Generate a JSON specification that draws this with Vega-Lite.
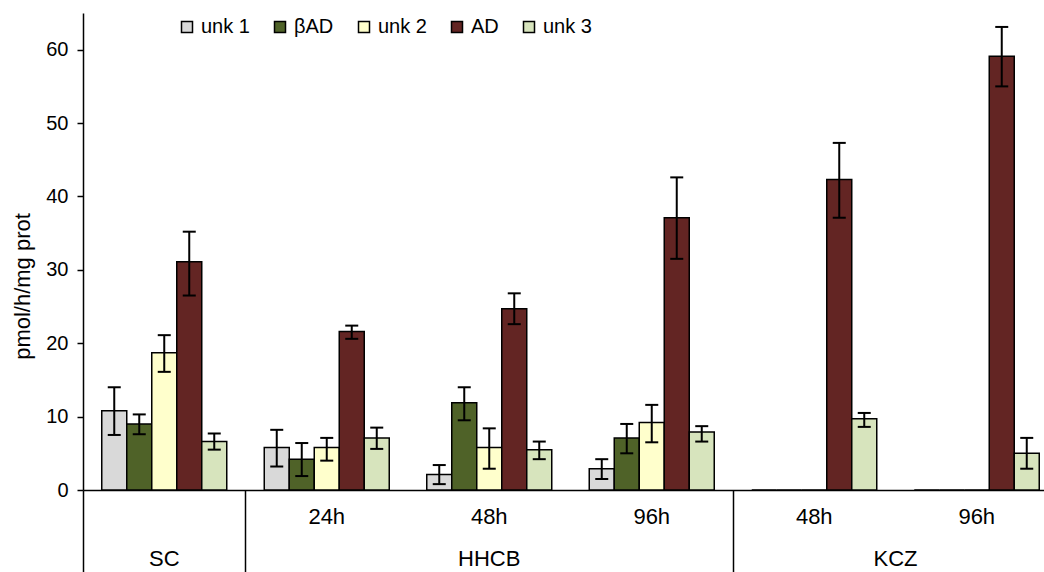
{
  "$schema": "https://vega.github.io/schema/vega-lite/v6.json",
  "autosize": {"type": "none"},
  "padding": {"left": 83, "top": 13, "right": 0, "bottom": 82},
  "width": 961,
  "height": 477,
  "background": "white",
  "config": {"font": "Liberation Sans", "view": {"stroke": null}, "axis": {"grid": false}},
  "data": {
    "values": [
      {"group": "SC", "series": "unk 1", "value": 10.8, "lo": 7.5, "hi": 14.0},
      {"group": "SC", "series": "βAD", "value": 9.0, "lo": 7.6, "hi": 10.3},
      {"group": "SC", "series": "unk 2", "value": 18.7, "lo": 16.1, "hi": 21.1},
      {"group": "SC", "series": "AD", "value": 31.1, "lo": 26.5, "hi": 35.2},
      {"group": "SC", "series": "unk 3", "value": 6.6, "lo": 5.5, "hi": 7.7},
      {"group": "HHCB 24h", "series": "unk 1", "value": 5.8, "lo": 3.2, "hi": 8.2},
      {"group": "HHCB 24h", "series": "βAD", "value": 4.2, "lo": 1.9, "hi": 6.4},
      {"group": "HHCB 24h", "series": "unk 2", "value": 5.8, "lo": 4.0, "hi": 7.1},
      {"group": "HHCB 24h", "series": "AD", "value": 21.6, "lo": 20.6, "hi": 22.4},
      {"group": "HHCB 24h", "series": "unk 3", "value": 7.1, "lo": 5.6, "hi": 8.5},
      {"group": "HHCB 48h", "series": "unk 1", "value": 2.1, "lo": 0.8, "hi": 3.4},
      {"group": "HHCB 48h", "series": "βAD", "value": 11.9, "lo": 9.5, "hi": 14.0},
      {"group": "HHCB 48h", "series": "unk 2", "value": 5.8, "lo": 2.9, "hi": 8.4},
      {"group": "HHCB 48h", "series": "AD", "value": 24.7, "lo": 22.6, "hi": 26.8},
      {"group": "HHCB 48h", "series": "unk 3", "value": 5.5, "lo": 4.2, "hi": 6.6},
      {"group": "HHCB 96h", "series": "unk 1", "value": 2.9, "lo": 1.5, "hi": 4.2},
      {"group": "HHCB 96h", "series": "βAD", "value": 7.1, "lo": 5.0, "hi": 9.0},
      {"group": "HHCB 96h", "series": "unk 2", "value": 9.2, "lo": 6.5, "hi": 11.6},
      {"group": "HHCB 96h", "series": "AD", "value": 37.1, "lo": 31.5, "hi": 42.6},
      {"group": "HHCB 96h", "series": "unk 3", "value": 7.9, "lo": 6.6, "hi": 8.7},
      {"group": "KCZ 48h", "series": "unk 1", "value": 0, "lo": null, "hi": null},
      {"group": "KCZ 48h", "series": "βAD", "value": 0, "lo": null, "hi": null},
      {"group": "KCZ 48h", "series": "unk 2", "value": 0, "lo": null, "hi": null},
      {"group": "KCZ 48h", "series": "AD", "value": 42.3, "lo": 37.1, "hi": 47.3},
      {"group": "KCZ 48h", "series": "unk 3", "value": 9.7, "lo": 8.6, "hi": 10.5},
      {"group": "KCZ 96h", "series": "unk 1", "value": 0, "lo": null, "hi": null},
      {"group": "KCZ 96h", "series": "βAD", "value": 0, "lo": null, "hi": null},
      {"group": "KCZ 96h", "series": "unk 2", "value": 0, "lo": null, "hi": null},
      {"group": "KCZ 96h", "series": "AD", "value": 59.1, "lo": 55.0, "hi": 63.1},
      {"group": "KCZ 96h", "series": "unk 3", "value": 5.0, "lo": 2.9, "hi": 7.1}
    ]
  },
  "layer": [
    {
      "mark": {"type": "bar", "stroke": "black", "strokeWidth": 1.5},
      "encoding": {
        "x": {
          "field": "group", "type": "nominal",
          "sort": ["SC", "HHCB 24h", "HHCB 48h", "HHCB 96h", "KCZ 48h", "KCZ 96h"],
          "scale": {"domain": ["SC", "HHCB 24h", "HHCB 48h", "HHCB 96h", "KCZ 48h", "KCZ 96h"], "range": [0, 975], "paddingInner": 0, "paddingOuter": 0},
          "axis": {
            "orient": "bottom", "title": null, "ticks": false, "domain": true,
            "domainColor": "black", "domainWidth": 1.5,
            "labelExpr": "datum.value == 'SC' ? ['', 'SC'] : datum.value == 'HHCB 48h' ? ['48h', 'HHCB'] : [slice(datum.value, -3), '']",
            "labelAngle": 0, "labelFontSize": 22, "labelColor": "black", "labelPadding": 16,
            "labelBaseline": "top", "labelLineHeight": 42, "labelFont": "Liberation Sans"
          }
        },
        "xOffset": {
          "field": "series", "type": "nominal",
          "sort": ["unk 1", "βAD", "unk 2", "AD", "unk 3"],
          "scale": {"domain": ["unk 1", "βAD", "unk 2", "AD", "unk 3"], "paddingInner": 0, "paddingOuter": 0.75}
        },
        "y": {
          "field": "value", "type": "quantitative",
          "scale": {"domain": [0, 65], "nice": false},
          "axis": {
            "title": "pmol/h/mg prot", "values": [0, 10, 20, 30, 40, 50, 60],
            "tickSize": 6, "tickColor": "black", "tickWidth": 1.5,
            "domainColor": "black", "domainWidth": 1.5,
            "labelFontSize": 20, "labelColor": "black", "labelPadding": 9, "labelFont": "Liberation Sans",
            "titleFontSize": 22, "titleFontWeight": "normal", "titleColor": "black", "titleFont": "Liberation Sans",
            "titleAngle": -90, "titleX": -54, "titleY": 273, "titleBaseline": "alphabetic", "titleAlign": "center"
          }
        },
        "color": {
          "field": "series", "type": "nominal",
          "scale": {"domain": ["unk 1", "βAD", "unk 2", "AD", "unk 3"], "range": ["#D9D9D9", "#4F6228", "#FFFFCC", "#632523", "#D7E4BD"]},
          "legend": {
            "orient": "none", "legendX": 94, "legendY": 4, "direction": "horizontal", "columns": 5,
            "title": null, "padding": 0, "symbolType": "square", "symbolSize": 121,
            "symbolStrokeColor": "black", "symbolStrokeWidth": 1.5, "symbolOpacity": 1,
            "labelFontSize": 20, "labelColor": "black", "labelFont": "Liberation Sans",
            "labelOffset": 4, "columnPadding": 20
          }
        }
      }
    },
    {
      "transform": [{"filter": "datum.hi != null"}],
      "mark": {"type": "rule", "color": "black", "strokeWidth": 2},
      "encoding": {
        "x": {
          "field": "group", "type": "nominal",
          "sort": ["SC", "HHCB 24h", "HHCB 48h", "HHCB 96h", "KCZ 48h", "KCZ 96h"],
          "axis": {
            "orient": "bottom", "title": null, "bandPosition": 0,
            "values": ["SC", "HHCB 24h", "KCZ 48h"],
            "ticks": true, "tickSize": 82, "tickColor": "black", "tickWidth": 1.5,
            "labels": false, "domain": false
          }
        },
        "xOffset": {"field": "series", "type": "nominal", "sort": ["unk 1", "βAD", "unk 2", "AD", "unk 3"]},
        "y": {"field": "lo", "type": "quantitative", "title": "pmol/h/mg prot"},
        "y2": {"field": "hi"}
      }
    },
    {
      "transform": [{"filter": "datum.hi != null"}],
      "mark": {"type": "tick", "color": "black", "size": 13, "thickness": 2, "opacity": 1},
      "encoding": {
        "x": {
          "field": "group", "type": "nominal",
          "sort": ["SC", "HHCB 24h", "HHCB 48h", "HHCB 96h", "KCZ 48h", "KCZ 96h"],
          "axis": {
            "orient": "bottom", "title": null,
            "values": ["KCZ 96h"], "ticks": false, "domain": false,
            "labelExpr": "['', 'KCZ']", "labelAngle": 0, "labelOffset": -81.25,
            "labelFontSize": 22, "labelColor": "black", "labelPadding": 16,
            "labelBaseline": "top", "labelLineHeight": 42, "labelFont": "Liberation Sans"
          }
        },
        "xOffset": {"field": "series", "type": "nominal", "sort": ["unk 1", "βAD", "unk 2", "AD", "unk 3"]},
        "y": {"field": "hi", "type": "quantitative", "title": "pmol/h/mg prot"}
      }
    },
    {
      "transform": [{"filter": "datum.lo != null"}],
      "mark": {"type": "tick", "color": "black", "size": 13, "thickness": 2, "opacity": 1},
      "encoding": {
        "x": {
          "field": "group", "type": "nominal",
          "sort": ["SC", "HHCB 24h", "HHCB 48h", "HHCB 96h", "KCZ 48h", "KCZ 96h"],
          "axis": null
        },
        "xOffset": {"field": "series", "type": "nominal", "sort": ["unk 1", "βAD", "unk 2", "AD", "unk 3"]},
        "y": {"field": "lo", "type": "quantitative", "title": "pmol/h/mg prot"}
      }
    }
  ],
  "resolve": {"axis": {"x": "independent"}}
}
